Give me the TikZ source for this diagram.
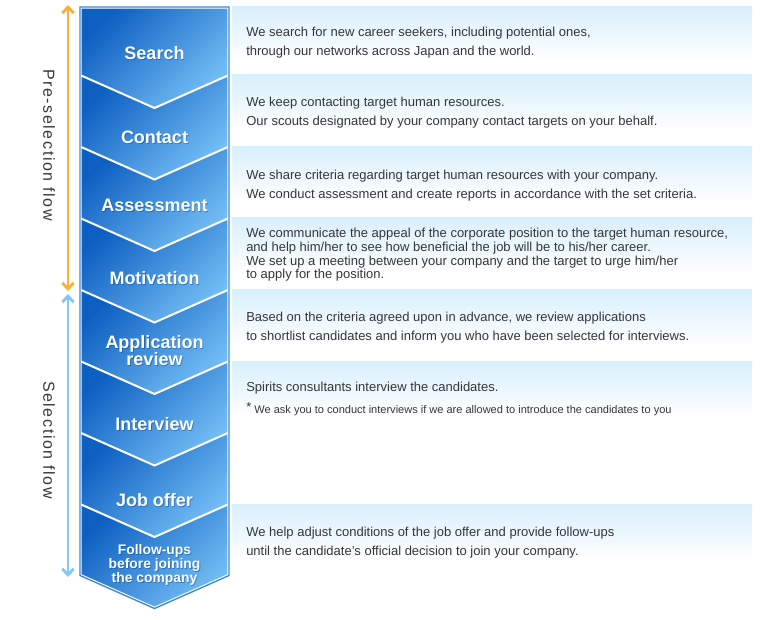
\documentclass[tikz,border=0pt]{standalone}
\usepackage{fontspec}
\setmainfont{Liberation Sans}
\usetikzlibrary{arrows.meta}
\definecolor{cdark}{HTML}{0D5FC2}
\definecolor{clight}{HTML}{74BEF5}
\definecolor{cedge}{HTML}{3A86D6}
\definecolor{bandblue}{HTML}{D9EFFC}
\definecolor{txt}{HTML}{363636}
\definecolor{orangearrow}{HTML}{F9B03E}
\definecolor{bluearrow}{HTML}{86C5F7}
\newcommand\chevlbl[3]{%
  \node[lblsh] (#1-s) at (155.4,{#2+0.9}) {#3};
  \node[lbl] (#1) at (154.5,#2) {#3};}
\begin{document}
\begin{tikzpicture}[x=0.75pt,y=-0.75pt,
  seg/.style={top color=cdark, bottom color=clight, shading angle=45},
  lbl/.style={text=white, font=\bfseries\fontsize{13.5}{12.75}\selectfont, align=center, inner sep=0},
  lblsh/.style={lbl, text=cdark!70!black, opacity=0.45},
  smalllbl/.style={font=\bfseries\fontsize{10.4}{10.5}\selectfont},
  body/.style={font=\fontsize{9.75}{14.25}\selectfont, text=txt, align=left, anchor=west, inner sep=0},
  side/.style={font=\fontsize{12}{12}\selectfont\addfontfeature{LetterSpace=10}, text=txt, rotate=-90, inner sep=0},
  flowarrow/.style={line width=2.2pt, {Straight Barb[length=4.5pt,width=8.5pt]}-{Straight Barb[length=4.5pt,width=8.5pt]}}]
\useasboundingbox (0,0) rectangle (770,620);
% bands
\foreach \t/\b in {7/75, 75/146.5, 146.5/218, 218/289.5, 289.5/361, 361/432.5, 504/575.5} {
  \shade[top color=bandblue, bottom color=white] (232,\t) rectangle (752,{\t+0.8*(\b-\t)});
}
% chevron segments
\shade[seg] (80,7) -- (229,7) -- (229,75) -- (154.5,108) -- (80,75) -- cycle;
\foreach \i in {1,...,7} {
  \pgfmathsetmacro\Lt{75+71.5*(\i-1)}
  \pgfmathsetmacro\Lb{75+71.5*\i}
  \shade[seg] (80,\Lt) -- (154.5,{\Lt+33}) -- (229,\Lt) -- (229,\Lb) -- (154.5,{\Lb+33}) -- (80,\Lb) -- cycle;
}
\foreach \k in {0,...,6} {
  \pgfmathsetmacro\L{75+71.5*\k}
  \draw[white, line width=1.5] (80,\L) -- (154.5,{\L+33}) -- (229,\L);
}
\draw[white, line width=2.6, line join=miter] (80,7) -- (229,7) -- (229,575.5) -- (154.5,608.5) -- (80,575.5) -- cycle;
\draw[cedge, line width=1, line join=miter] (80,7) -- (229,7) -- (229,575.5) -- (154.5,608.5) -- (80,575.5) -- cycle;
% labels in chevrons
\chevlbl{search}{53}{Search}
\chevlbl{contact}{137}{Contact}
\chevlbl{assess}{205}{Assessment}
\chevlbl{motiv}{278}{Motivation}
\chevlbl{appl}{350.5}{Application\\review}
\chevlbl{interview}{424}{Interview}
\chevlbl{joboffer}{500}{Job offer}
\node[lblsh, smalllbl] (follow-s) at (155.4,565.9) {Follow-ups\\before joining\\the company};
\node[lbl, smalllbl] (follow) at (154.5,565) {Follow-ups\\before joining\\the company};
% side arrows
\coordinate (o1) at (68,5);
\coordinate (o2) at (68,291);
\coordinate (b1) at (68,294);
\coordinate (b2) at (68,577);
\draw[flowarrow, orangearrow] (o1) -- (o2);
\draw[flowarrow, bluearrow] (b1) -- (b2);
\node[side] (pre) at (49,145) {Pre-selection flow};
\node[side] (sel) at (49,440) {Selection flow};
% description texts
\node[body] (t1) at (246,42.5) {We search for new career seekers, including potential ones,\\through our networks across Japan and the world.};
\node[body] (t2) at (246,112.5) {We keep contacting target human resources.\\Our scouts designated by your company contact targets on your behalf.};
\node[body] (t3) at (246,185.5) {We share criteria regarding target human resources with your company.\\We conduct assessment and create reports in accordance with the set criteria.};
\node[body, font=\fontsize{9.75}{10.3}\selectfont] (t4) at (246,255) {We communicate the appeal of the corporate position to the target human resource,\\and help him/her to see how beneficial the job will be to his/her career.\\We set up a meeting between your company and the target to urge him/her\\to apply for the position.};
\node[body] (t5) at (246,328) {Based on the criteria agreed upon in advance, we review applications\\to shortlist candidates and inform you who have been selected for interviews.};
\node[body] (t6a) at (246,388) {Spirits consultants interview the candidates.};
\node[body, font=\fontsize{8.27}{9}\selectfont] (t6b) at (246,409) {\raisebox{1.2pt}{\fontsize{9.75}{9}\selectfont*} We ask you to conduct interviews if we are allowed to introduce the candidates to you};
\node[body] (t8) at (246,542.5) {We help adjust conditions of the job offer and provide follow-ups\\until the candidate’s official decision to join your company.};
\end{tikzpicture}
\end{document}
